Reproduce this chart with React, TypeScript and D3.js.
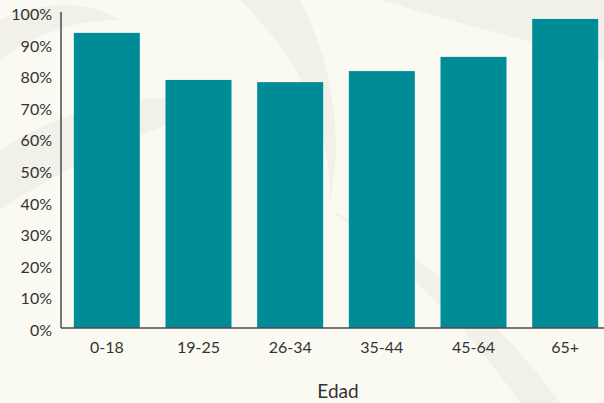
import { useMemo } from 'react'
import * as d3 from 'd3'

const WIDTH = 604
const HEIGHT = 403
const MARGIN = { top: 12, right: -7, bottom: 75, left: 61 }

const AGE_GROUPS = ['0-18', '19-25', '26-34', '35-44', '45-64', '65+']
const SHARE_VALUES = [93.4, 78.5, 77.8, 81.3, 85.8, 97.8]
const Y_TICKS = [0, 10, 20, 30, 40, 50, 60, 70, 80, 90, 100]
const X_AXIS_TITLE = 'Edad'

const BAR_COLOR = '#008c97'
const TEXT_COLOR = '#333333'
const AXIS_COLOR = '#4a4a4a'
const FONT = 'Lato, "Open Sans", sans-serif'

export default function App() {
  const innerWidth = WIDTH - MARGIN.left - MARGIN.right
  const innerHeight = HEIGHT - MARGIN.top - MARGIN.bottom

  const data = useMemo(
    () => AGE_GROUPS.map((group, i) => ({ group, value: SHARE_VALUES[i] })),
    []
  )

  const xScale = d3.scaleBand()
    .domain(AGE_GROUPS)
    .range([0, innerWidth])
    .paddingInner(0.28)
    .paddingOuter(0.14)

  const yScale = d3.scaleLinear()
    .domain([0, 100])
    .range([innerHeight, 0])

  return (
    <svg
      width={WIDTH}
      height={HEIGHT}
      style={{ position: 'absolute', left: 0, top: 0, display: 'block' }}
    >
      {/* Faded photo background */}
      <rect width={WIDTH} height={HEIGHT} fill="#fbfaf2" />
      <g fill="#eeede6" opacity={0.7}>
        <path d="M0,150 C60,110 140,90 230,100 C180,120 90,150 0,210 Z" />
        <path d="M240,0 C300,60 330,120 330,200 C345,130 330,60 300,0 Z" />
        <path d="M330,210 C400,260 470,330 520,403 L560,403 C500,320 420,250 330,210 Z" />
        <path d="M380,0 L604,0 L604,60 C520,40 450,20 380,0 Z" />
        <path d="M0,20 C40,0 90,0 120,20 C80,20 40,30 0,60 Z" />
      </g>

      <g transform={`translate(${MARGIN.left}, ${MARGIN.top})`}>
        {/* Bars */}
        {data.map(d => (
          <rect
            key={d.group}
            x={xScale(d.group)}
            y={yScale(d.value)}
            width={xScale.bandwidth()}
            height={innerHeight - yScale(d.value)}
            fill={BAR_COLOR}
          />
        ))}

        {/* Y axis */}
        <line x1={0} x2={0} y1={0} y2={innerHeight} stroke={AXIS_COLOR} strokeWidth={1.5} />
        {Y_TICKS.map(tick => (
          <text
            key={tick}
            x={-9}
            y={yScale(tick) + 4}
            textAnchor="end"
            dominantBaseline="middle"
            fill={TEXT_COLOR}
            fontSize={16}
            fontFamily={FONT}
          >
            {`${tick}%`}
          </text>
        ))}

        {/* X axis */}
        <line x1={0} x2={WIDTH - MARGIN.left} y1={innerHeight} y2={innerHeight} stroke={AXIS_COLOR} strokeWidth={1.5} />
        {AGE_GROUPS.map(group => (
          <text
            key={group}
            x={xScale(group) + xScale.bandwidth() / 2}
            y={innerHeight + 21}
            textAnchor="middle"
            dominantBaseline="middle"
            fill={TEXT_COLOR}
            fontSize={16}
            fontFamily={FONT}
          >
            {group}
          </text>
        ))}

        <text
          x={338 - MARGIN.left}
          y={innerHeight + 65}
          textAnchor="middle"
          dominantBaseline="middle"
          fill={TEXT_COLOR}
          fontSize={19}
          fontFamily={FONT}
        >
          {X_AXIS_TITLE}
        </text>
      </g>
    </svg>
  )
}
